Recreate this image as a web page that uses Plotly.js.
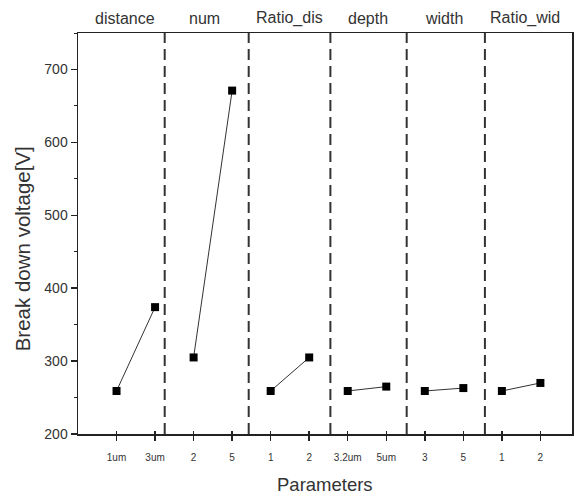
<!DOCTYPE html>
<html>
<head>
<meta charset="utf-8">
<script src="https://cdn.plot.ly/plotly-3.0.1.min.js"></script>
<style>html,body{margin:0;padding:0;background:#fff;}#chart{width:576px;height:497px;}</style>
</head>
<body>
<div id="chart"></div>
<script>
// Data
const groupNames = ['distance', 'num', 'Ratio_dis', 'depth', 'width', 'Ratio_wid'];
const levelLabels = ['1um', '3um', '2', '5', '1', '2', '3.2um', '5um', '3', '5', '1', '2'];
const distanceV = [259, 374];
const numV = [305, 671];
const ratioDisV = [259, 305];
const depthV = [259, 265];
const widthV = [259, 263];
const ratioWidV = [259, 270];
const groupValues = [distanceV, numV, ratioDisV, depthV, widthV, ratioWidV];

// Layout helpers (positions, not data)
const dividers = [2.25, 4.43, 6.55, 8.53, 10.56];
const labelPos = [1.22, 3.28, 5.49, 7.53, 9.5, 11.6];
const FONT = 'Liberation Sans, Arial, sans-serif';
const TXT = '#333';

const traces = groupValues.map((vals, g) => ({
  type: 'scatter',
  mode: 'lines+markers',
  x: vals.map((v, k) => g * 2 + k + 1),
  y: vals,
  line: {color: '#333', width: 1},
  marker: {symbol: 'square', size: 8, color: '#000'},
  showlegend: false,
  hoverinfo: 'skip'
}));
// invisible trace to host the overlay axis for crossing ticks
traces.push({type: 'scatter', mode: 'markers', x: [1], y: [200], xaxis: 'x2', marker: {opacity: 0}, showlegend: false, hoverinfo: 'skip'});

const tickVals = levelLabels.map((_, i) => i + 1);

const annotations = groupNames.map((n, i) => ({
  text: n, xref: 'x', yref: 'paper', x: labelPos[i], y: 1, yanchor: 'bottom',
  yshift: 4, showarrow: false, font: {size: 16, color: TXT, family: FONT}
}));
annotations.push({
  text: 'Break down voltage[V]', xref: 'paper', yref: 'paper', x: -0.113, y: 0.461,
  xanchor: 'center', yanchor: 'middle', textangle: -90, showarrow: false,
  font: {size: 20.5, color: TXT, family: FONT}
});
annotations.push({
  text: 'Parameters', xref: 'paper', yref: 'paper', x: 0.5, y: -0.127,
  xanchor: 'center', yanchor: 'middle', showarrow: false,
  font: {size: 18.5, color: TXT, family: FONT}
});

const layout = {
  width: 576, height: 497,
  margin: {l: 78, r: 4, t: 33, b: 63},
  paper_bgcolor: '#fff', plot_bgcolor: '#fff',
  font: {family: FONT, color: TXT},
  xaxis: {
    range: [0, 12.82], showgrid: false, zeroline: false,
    showline: true, linecolor: '#222', linewidth: 1.5, mirror: true,
    ticks: 'outside', ticklen: 5, tickwidth: 1.5, tickcolor: '#222',
    tickvals: tickVals, ticktext: levelLabels,
    tickfont: {size: 10, color: TXT, family: FONT},
    ticklabelstandoff: 8
  },
  xaxis2: {
    overlaying: 'x', range: [0, 12.82], showgrid: false, zeroline: false,
    showline: false, ticks: 'inside', ticklen: 3, tickwidth: 1.5, tickcolor: '#222',
    tickvals: tickVals, showticklabels: false
  },
  yaxis: {
    range: [200, 750], showgrid: false, zeroline: false,
    showline: true, linecolor: '#222', linewidth: 1.5, mirror: true,
    ticks: 'outside', ticklen: 6, tickwidth: 1.5, tickcolor: '#222',
    tickvals: [200, 300, 400, 500, 600, 700],
    minor: {tickvals: [250, 350, 450, 550, 650, 750], ticks: 'outside', ticklen: 3, tickwidth: 1, tickcolor: '#222'},
    tickfont: {size: 14, color: TXT, family: FONT}
  },
  shapes: dividers.map(d => ({
    type: 'line', xref: 'x', yref: 'paper', x0: d, x1: d, y0: 0, y1: 1,
    line: {color: '#333', width: 2, dash: '11px,6px'}
  })),
  annotations: annotations
};

Plotly.newPlot('chart', traces, layout, {displayModeBar: false, staticPlot: true});
</script>
</body>
</html>
